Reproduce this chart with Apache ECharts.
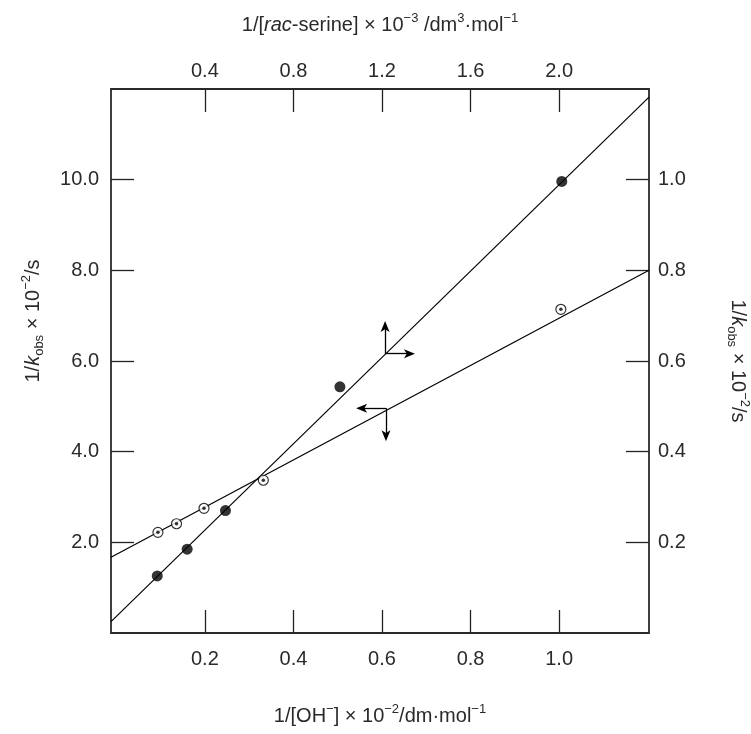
<!DOCTYPE html>
<html>
<head>
<meta charset="utf-8">
<script src="https://cdn.jsdelivr.net/npm/echarts@6/dist/echarts.min.js"></script>
<style>
html,body{margin:0;padding:0;background:#fff;}
#chart{width:751px;height:734px;}
</style>
</head>
<body>
<div id="chart"></div>
<script>
// Tick labels
const xBottomTicks = [0.2, 0.4, 0.6, 0.8, 1.0];
const xTopTicks = [0.4, 0.8, 1.2, 1.6, 2.0];
const yLeftTicks = [2, 4, 6, 8, 10];
const yRightTicks = [0.2, 0.4, 0.6, 0.8, 1.0];

// Open circles: 1/[OH-] (bottom axis) vs 1/kobs (left axis)
const ohX = [0.094, 0.136, 0.198, 0.332, 1.004];
const ohY = [2.22, 2.41, 2.75, 3.37, 7.14];
// Filled circles: 1/[rac-serine] (top axis) vs 1/kobs (right axis)
const serX = [0.185, 0.320, 0.493, 1.010, 2.012];
const serY = [0.126, 0.185, 0.270, 0.543, 0.996];

// Fitted lines (end points, in axis units)
const ohFitX = [-0.012, 1.203];
const ohFitY = [1.67, 8.0];
const serFitX = [-0.024, 2.406];
const serFitY = [0.025, 1.182];

// Arrows: [fromX, fromY, toX, toY]
const serArrows = [[1.214, 0.616, 1.214, 0.676], [1.214, 0.616, 1.324, 0.616]]; // top/right axes
const ohArrows = [[0.609, 4.96, 0.554, 4.96], [0.609, 4.96, 0.609, 4.35]];       // bottom/left axes

const zip = (a, b) => a.map((v, i) => [v, b[i]]);
const FONT = 'Liberation Sans, Arial, sans-serif';
const TXT = '#2a2a2a';
const FS = 20;
const LH = 26;
const rich = {
  sup: { fontSize: 13, verticalAlign: 'top', lineHeight: LH, color: TXT, fontFamily: FONT },
  sub: { fontSize: 13, verticalAlign: 'bottom', lineHeight: LH, color: TXT, fontFamily: FONT },
  it: { fontSize: FS, fontStyle: 'italic', lineHeight: LH, color: TXT, fontFamily: FONT }
};
const nameStyle = { fontSize: FS, color: TXT, fontFamily: FONT, lineHeight: LH, rich: rich };
const arrowHead = 'path://M5,0 L10,11 L5,8.2 L0,11 Z';

function axisBase(min, max, ticks, margin) {
  return {
    type: 'value', min: min, max: max,
    axisLine: { show: true, onZero: false, lineStyle: { color: '#2a2a2a', width: 1.8 } },
    axisTick: { show: true, inside: true, length: 23, customValues: ticks, lineStyle: { color: '#222', width: 1.3 } },
    axisLabel: { customValues: ticks, formatter: v => v.toFixed(1), margin: margin, fontSize: FS, color: TXT, fontFamily: FONT },
    splitLine: { show: false }
  };
}

const chart = echarts.init(document.getElementById('chart'), null, { renderer: 'canvas' });
const option = {
  backgroundColor: '#fff',
  animation: false,
  grid: { left: 111, right: 102, top: 89, bottom: 101, containLabel: false, outerBoundsMode: 'none' },
  xAxis: [
    Object.assign(axisBase(ohFitX[0], ohFitX[1], xBottomTicks, 16), {
      position: 'bottom', name: '1/[OH{sup|−}] × 10{sup|−2}/dm·mol{sup|−1}',
      nameLocation: 'middle', nameGap: 70, nameTextStyle: nameStyle
    }),
    Object.assign(axisBase(serFitX[0], serFitX[1], xTopTicks, 8), {
      position: 'top', name: '1/[{it|rac}-serine] × 10{sup|−3} /dm{sup|3}·mol{sup|−1}',
      nameLocation: 'middle', nameGap: 51, nameTextStyle: nameStyle
    })
  ],
  yAxis: [
    Object.assign(axisBase(0, 12, yLeftTicks, 12), {
      position: 'left', name: '1/{it|k}{sub|obs} × 10{sup|−2}/s',
      nameLocation: 'middle', nameGap: 65, nameRotate: 90,
      nameTextStyle: Object.assign({}, nameStyle, { padding: [0, 0, 0, 80] })
    }),
    Object.assign(axisBase(0, 1.2, yRightTicks, 9), {
      position: 'right', name: '1/{it|k}{sub|obs} × 10{sup|−2}/s',
      nameLocation: 'middle', nameGap: 76, nameRotate: -90, nameTextStyle: nameStyle
    })
  ],
  series: [
    { type: 'line', xAxisIndex: 0, yAxisIndex: 0, data: zip(ohFitX, ohFitY), symbol: 'none', silent: true,
      lineStyle: { color: '#000', width: 1.2 }, z: 2 },
    { type: 'line', xAxisIndex: 1, yAxisIndex: 1, data: zip(serFitX, serFitY), symbol: 'none', silent: true,
      lineStyle: { color: '#000', width: 1.2 }, z: 2 },
    { type: 'scatter', xAxisIndex: 0, yAxisIndex: 0, data: zip(ohX, ohY), symbol: 'circle', symbolSize: 10,
      itemStyle: { color: '#fff', borderColor: '#000', borderWidth: 1.2 }, z: 3 },
    { type: 'scatter', xAxisIndex: 0, yAxisIndex: 0, data: zip(ohX, ohY), symbol: 'circle', symbolSize: 3.5,
      itemStyle: { color: '#000' }, z: 4 },
    { type: 'scatter', xAxisIndex: 1, yAxisIndex: 1, data: zip(serX, serY), symbol: 'circle', symbolSize: 11,
      itemStyle: { color: '#000' }, z: 4 },
    { type: 'line', xAxisIndex: 1, yAxisIndex: 1, data: [], silent: true,
      markLine: { silent: true, symbol: ['none', arrowHead], symbolSize: [9, 11], animation: false,
        label: { show: false }, lineStyle: { color: '#000', width: 1.3, type: 'solid' },
        emphasis: { disabled: true },
        data: serArrows.map(a => [{ coord: [a[0], a[1]] }, { coord: [a[2], a[3]] }]) } },
    { type: 'line', xAxisIndex: 0, yAxisIndex: 0, data: [], silent: true,
      markLine: { silent: true, symbol: ['none', arrowHead], symbolSize: [9, 11], animation: false,
        label: { show: false }, lineStyle: { color: '#000', width: 1.3, type: 'solid' },
        emphasis: { disabled: true },
        data: ohArrows.map(a => [{ coord: [a[0], a[1]] }, { coord: [a[2], a[3]] }]) } }
  ]
};
chart.setOption(option);
</script>
</body>
</html>
